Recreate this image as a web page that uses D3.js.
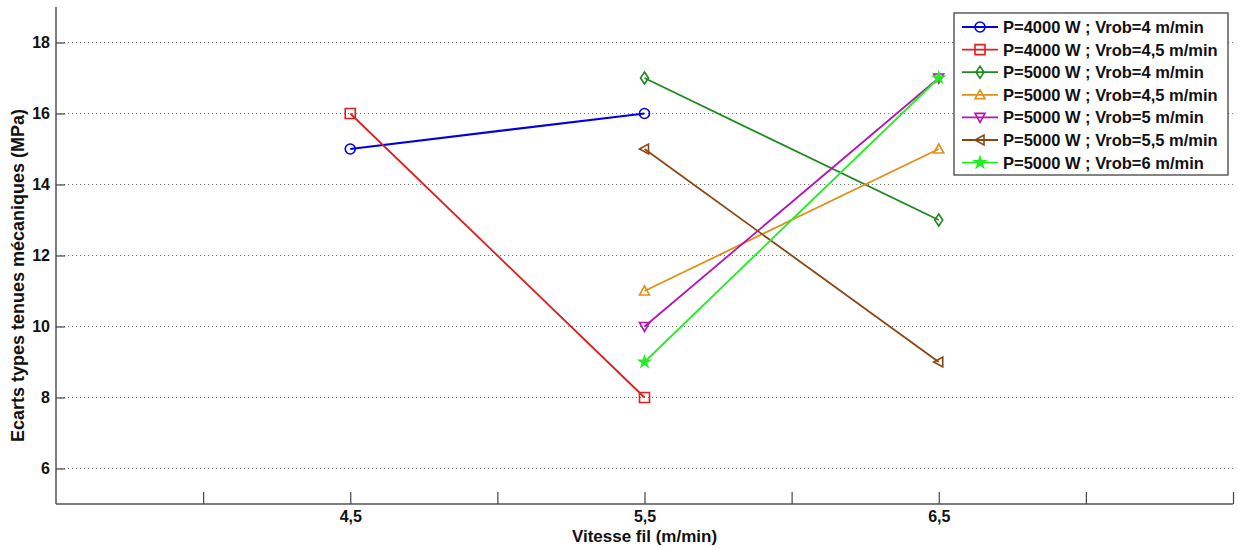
<!DOCTYPE html>
<html><head><meta charset="utf-8">
<script src="https://cdn.jsdelivr.net/npm/d3@7"></script>
<style>
body{margin:0;background:#fff;}
svg{display:block;font-family:"Liberation Sans",Arial,sans-serif;}
</style></head>
<body>
<svg id="chart" width="1238" height="548"></svg>
<script>
const xTicks = [4, 4.5, 5, 5.5, 6, 6.5, 7, 7.5];
const xTickLabels = ["", "4,5", "", "5,5", "", "6,5", "", ""];
const yTicks = [6, 8, 10, 12, 14, 16, 18];
const seriesNames = [
  "P=4000 W ; Vrob=4 m/min",
  "P=4000 W ; Vrob=4,5 m/min",
  "P=5000 W ; Vrob=4 m/min",
  "P=5000 W ; Vrob=4,5 m/min",
  "P=5000 W ; Vrob=5 m/min",
  "P=5000 W ; Vrob=5,5 m/min",
  "P=5000 W ; Vrob=6 m/min"
];
const seriesX = [
  [4.5, 5.5],
  [4.5, 5.5],
  [5.5, 6.5],
  [5.5, 6.5],
  [5.5, 6.5],
  [5.5, 6.5],
  [5.5, 6.5]
];
const seriesY = [
  [15, 16],
  [16, 8],
  [17, 13],
  [11, 15],
  [10, 17],
  [15, 9],
  [9, 17]
];
const seriesColors = ["#0000e0", "#dd1f1f", "#1e8a1e", "#e0901a", "#b414b4", "#8b4513", "#22ee22"];
const seriesMarkers = ["circle", "square", "diamond", "triUp", "triDown", "triLeft", "star"];

const svg = d3.select("#chart");
const m = {left: 56, right: 1233, top: 7, bottom: 504};
const x = d3.scaleLinear().domain([3.5, 7.5]).range([m.left, m.right]);
const y = d3.scaleLinear().domain([5, 19]).range([m.bottom, m.top]);
const FONT = "Liberation Sans, Arial, sans-serif";

// grid
svg.append("g").selectAll("line").data(yTicks).join("line")
  .attr("x1", m.left).attr("x2", m.right)
  .attr("y1", d => y(d)).attr("y2", d => y(d))
  .attr("stroke", "#777").attr("stroke-width", 1).attr("stroke-dasharray", "1.2,2.8");

// y axis
const yAxis = d3.axisLeft(y).tickValues(yTicks).tickSize(-9).tickPadding(6).tickFormat(d => d);
const gy = svg.append("g").attr("transform", `translate(${m.left},0)`).call(yAxis);
gy.select(".domain").attr("d", `M0,${m.top}V${m.bottom}`).attr("stroke", "#555").attr("stroke-width", 1.5);
gy.selectAll(".tick line").attr("stroke", "#444").attr("stroke-width", 1.2);
gy.selectAll(".tick text").attr("font-size", 16).attr("font-weight", "bold").attr("fill", "#111")
  .attr("font-family", FONT);

// x axis
const xAxis = d3.axisBottom(x).tickValues(xTicks).tickSize(-12).tickPadding(7)
  .tickFormat((d, i) => xTickLabels[i]);
const gx = svg.append("g").attr("transform", `translate(0,${m.bottom})`).call(xAxis);
gx.select(".domain").attr("d", `M${m.left},0H${m.right}`).attr("stroke", "#555").attr("stroke-width", 1.5);
gx.selectAll(".tick line").attr("stroke", "#444").attr("stroke-width", 1.2);
gx.selectAll(".tick text").attr("font-size", 16).attr("font-weight", "bold").attr("fill", "#111")
  .attr("font-family", FONT);

// axis labels
svg.append("text").attr("x", x(5.5)).attr("y", 542).attr("text-anchor", "middle")
  .attr("font-size", 17).attr("font-weight", "bold").attr("fill", "#111")
  .text("Vitesse fil (m/min)");
svg.append("text").attr("transform", `translate(24,${(m.top + m.bottom) / 2 + 20}) rotate(-90)`)
  .attr("text-anchor", "middle")
  .attr("font-size", 18).attr("font-weight", "bold").attr("fill", "#111")
  .text("Ecarts types tenues mécaniques (MPa)");

function markerPath(type, s) {
  const r = s / 2;
  switch (type) {
    case "circle": return d3.symbol(d3.symbolCircle, Math.PI * r * r)();
    case "square": return `M${-r},${-r}H${r}V${r}H${-r}Z`;
    case "diamond": return `M0,${-r * 1.2}L${r * 0.8},0L0,${r * 1.2}L${-r * 0.8},0Z`;
    case "triUp": return `M0,${-r}L${r},${r * 0.8}L${-r},${r * 0.8}Z`;
    case "triDown": return `M0,${r}L${r},${-r * 0.8}L${-r},${-r * 0.8}Z`;
    case "triLeft": return `M${-r},0L${r * 0.8},${-r}L${r * 0.8},${r}Z`;
    case "star": return d3.symbol(d3.symbolStar, s * s * 0.35)();
  }
}

const line = d3.line().x(d => x(d[0])).y(d => y(d[1]));
seriesNames.forEach((name, i) => {
  const pts = seriesX[i].map((xv, j) => [xv, seriesY[i][j]]);
  const g = svg.append("g");
  g.append("path").attr("d", line(pts)).attr("fill", "none")
    .attr("stroke", seriesColors[i]).attr("stroke-width", i === 0 ? 2.2 : 1.8);
  g.selectAll("path.mk").data(pts).join("path").attr("class", "mk")
    .attr("transform", d => `translate(${x(d[0])},${y(d[1])})`)
    .attr("d", markerPath(seriesMarkers[i], 10))
    .attr("fill", seriesMarkers[i] === "star" ? seriesColors[i] : "none")
    .attr("stroke", seriesColors[i]).attr("stroke-width", 1.6);
});

// legend
const lg = svg.append("g");
lg.append("rect").attr("x", 954).attr("y", 13).attr("width", 274).attr("height", 162)
  .attr("fill", "#fff").attr("stroke", "#333").attr("stroke-width", 1.2);
seriesNames.forEach((name, i) => {
  const ly = 27 + i * 22.6;
  lg.append("line").attr("x1", 962).attr("x2", 998).attr("y1", ly).attr("y2", ly)
    .attr("stroke", seriesColors[i]).attr("stroke-width", 1.8);
  lg.append("path").attr("transform", `translate(980,${ly})`)
    .attr("d", markerPath(seriesMarkers[i], 10))
    .attr("fill", seriesMarkers[i] === "star" ? seriesColors[i] : "none")
    .attr("stroke", seriesColors[i]).attr("stroke-width", 1.6);
  lg.append("text").attr("x", 1003).attr("y", ly + 6)
    .attr("font-size", 16.5).attr("font-weight", "bold").attr("fill", "#111")
    .text(name);
});
</script>
</body></html>
